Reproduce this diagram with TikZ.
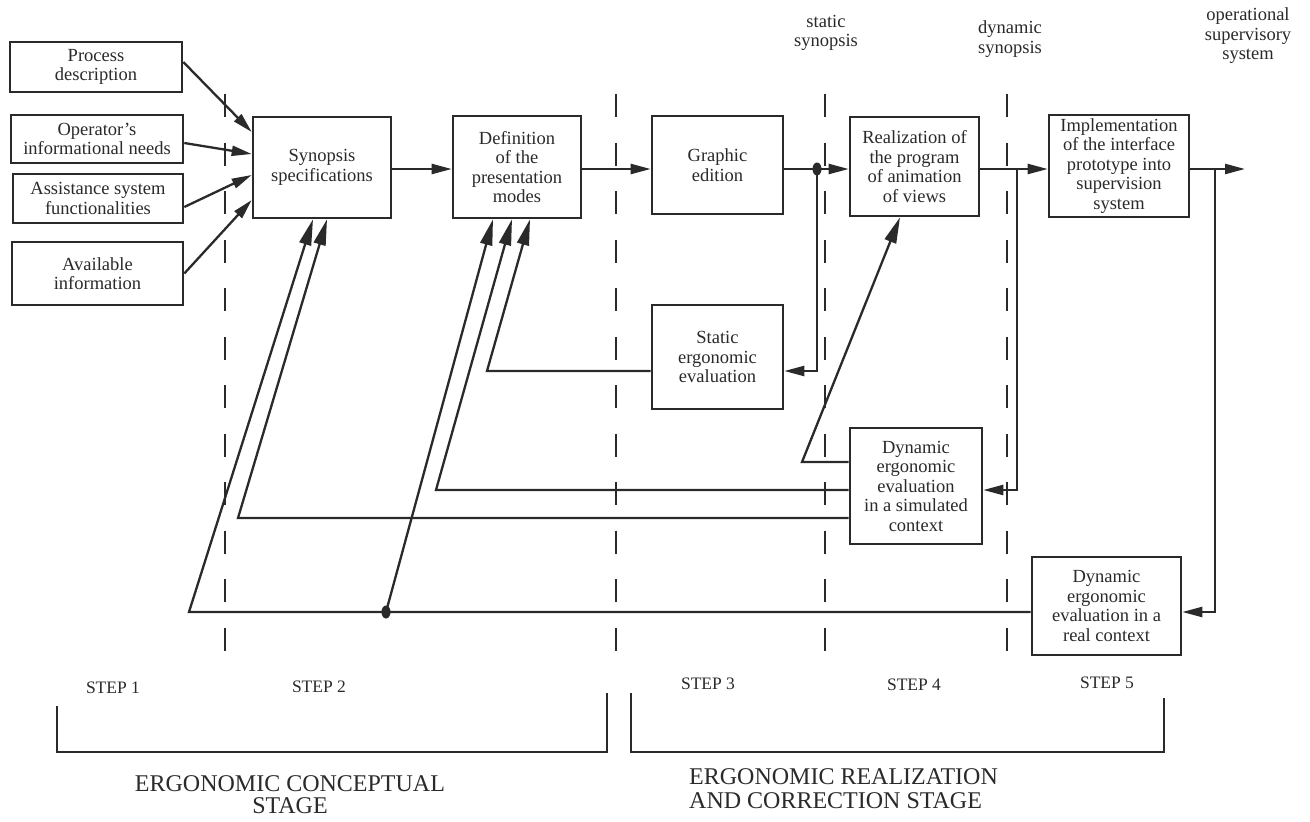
\documentclass[tikz,border=0pt]{standalone}
\usepackage{fontspec}
\setmainfont{Liberation Serif}
\usetikzlibrary{arrows.meta}
\definecolor{ink}{HTML}{2A2A2A}
\begin{document}
\begin{tikzpicture}[x=1pt,y=-1pt,
  box/.style={draw=ink, line width=2.6pt, align=center, inner sep=0pt,
    font=\fontsize{18.5}{19.5}\selectfont, text=ink},
  lbl/.style={align=center, inner sep=0pt, font=\fontsize{18.5}{19.5}\selectfont, text=ink},
  steplbl/.style={inner sep=0pt, font=\fontsize{17.5}{19}\selectfont, text=ink},
  stagelbl/.style={inner sep=0pt, font=\fontsize{24}{24}\selectfont, text=ink},
  conn/.style={draw=ink, line width=2.3pt},
  arr/.style={conn, -{Triangle[length=20pt,width=10pt]}},
  arrL/.style={conn, -{Triangle[length=26pt,width=12pt]}},
  sepline/.style={draw=ink, line width=2.6pt, dash pattern=on 23pt off 25.5pt},
  brace/.style={draw=ink, line width=2.6pt},
  dotmark/.style={fill=ink}
  ]
\fill[white] (0,0) rectangle (1310,822);
\useasboundingbox (0,0) rectangle (1310,822);

% separators
\foreach \xx in {225,616,825,1007}{
  \draw[sepline] (\xx,94) -- (\xx,652);
}

% boxes
\node[box, minimum width=172pt, minimum height=50pt] (proc) at (96,67) {Process\\description};
\node[box, minimum width=172pt, minimum height=48pt] (oper) at (97,139) {Operator's\\informational needs};
\node[box, minimum width=170pt, minimum height=49pt] (assist) at (98,198.5) {Assistance system\\functionalities};
\node[box, minimum width=171pt, minimum height=63pt] (avail) at (97.5,273.5) {Available\\information};
\node[box, minimum width=138pt, minimum height=101pt] (syn) at (322,167.5) {Synopsis\\specifications};
\node[box, minimum width=128pt, minimum height=102pt] (def) at (517,167) {Definition\\of the\\presentation\\modes};
\node[box, minimum width=131pt, minimum height=98pt] (graph) at (717.5,165) {Graphic\\edition};
\node[box, minimum width=129pt, minimum height=99pt] (real) at (914.5,166.5) {Realization of\\the program\\of animation\\of views};
\node[box, minimum width=140pt, minimum height=102pt] (impl) at (1119,166) {Implementation\\of the interface\\prototype into\\supervision\\system};
\node[box, minimum width=131pt, minimum height=104pt] (stat) at (717.5,357) {Static\\ergonomic\\evaluation};
\node[box, minimum width=132pt, minimum height=116pt] (dsim) at (916,486) {Dynamic\\ergonomic\\evaluation\\in a simulated\\context};
\node[box, minimum width=149pt, minimum height=98pt] (dreal) at (1106.5,606) {Dynamic\\ergonomic\\evaluation in a\\real context};

% top labels
\node[lbl] (lstat) at (826,33) {static\\synopsis};
\node[lbl] (ldyn) at (1010,39) {dynamic\\synopsis};
\node[lbl] (lop) at (1248,36) {operational\\supervisory\\system};

% reference coordinates
\coordinate (flow) at (0,169);
\coordinate (yst) at (0,371);
\coordinate (yd1) at (0,462);
\coordinate (yd2) at (0,490);
\coordinate (yd3) at (0,518);
\coordinate (yre) at (0,612);
\coordinate (j1) at (817,169);
\coordinate (j2) at (1017,169);
\coordinate (j3) at (1215,169);
\coordinate (out) at (1245,169);
\coordinate (c1) at (487,371);
\coordinate (c2) at (436,490);
\coordinate (c3) at (238,518);
\coordinate (c4) at (189,612);
\coordinate (c5) at (386,612);
\coordinate (c6) at (802,462);

% inputs
\draw[arr] ([yshift=5]proc.east) -- ([yshift=35.5]syn.west);
\draw[arr] ([yshift=-4]oper.east) -- ([yshift=13.5]syn.west);
\draw[arr] ([yshift=-8.5]assist.east) -- ([yshift=-7.5]syn.west);
\draw[arr] (avail.east) -- ([yshift=-32.5]syn.west);

% main flow
\draw[arr] (syn.east |- flow) -- (def.west |- flow);
\draw[arr] (def.east |- flow) -- (graph.west |- flow);
\draw[arr] (graph.east |- flow) -- (real.west |- flow);
\draw[arr] (real.east |- flow) -- (impl.west |- flow);
\draw[arr] (impl.east |- flow) -- (out);
\fill[dotmark] (j1) ellipse [x radius=4.5pt, y radius=6.5pt];

% branches down
\draw[arr] (j1) |- (stat.east |- yst);
\draw[arr] (j2) |- (dsim.east |- yd2);
\draw[arr] (j3) |- (dreal.east |- yre);

% feedback
\draw[arrL] (stat.west |- yst) -- (c1) -- ([xshift=13]def.south);
\draw[arrL] (dsim.west |- yd2) -- (c2) -- ([xshift=-5]def.south);
\draw[arrL] (dsim.west |- yd3) -- (c3) -- ([xshift=5]syn.south);
\draw[arrL] (dreal.west |- yre) -- (c4) -- ([xshift=-9]syn.south);
\fill[dotmark] (c5) ellipse [x radius=4.5pt, y radius=6.5pt];
\draw[arrL] (c5) -- ([xshift=-24]def.south);
\draw[arrL] (dsim.west |- yd1) -- (c6) -- ([xshift=-14.5]real.south);

% steps
\node[steplbl] (s1) at (113,688) {STEP 1};
\node[steplbl] (s2) at (319,687) {STEP 2};
\node[steplbl] (s3) at (708,684) {STEP 3};
\node[steplbl] (s4) at (914,685) {STEP 4};
\node[steplbl] (s5) at (1107,683) {STEP 5};

% brackets
\draw[brace] (57,706) -- (57,752) -- (607,752) -- (607,693);
\draw[brace] (631,693) -- (631,752) -- (1164,752) -- (1164,698);

% stage labels
\node[stagelbl, align=center] (st1) at (290,795) {ERGONOMIC CONCEPTUAL\\[-2pt]STAGE};
\node[stagelbl, align=left, anchor=west] (st2) at (689,789) {ERGONOMIC REALIZATION\\[0pt]AND CORRECTION STAGE};
\end{tikzpicture}
\end{document}
